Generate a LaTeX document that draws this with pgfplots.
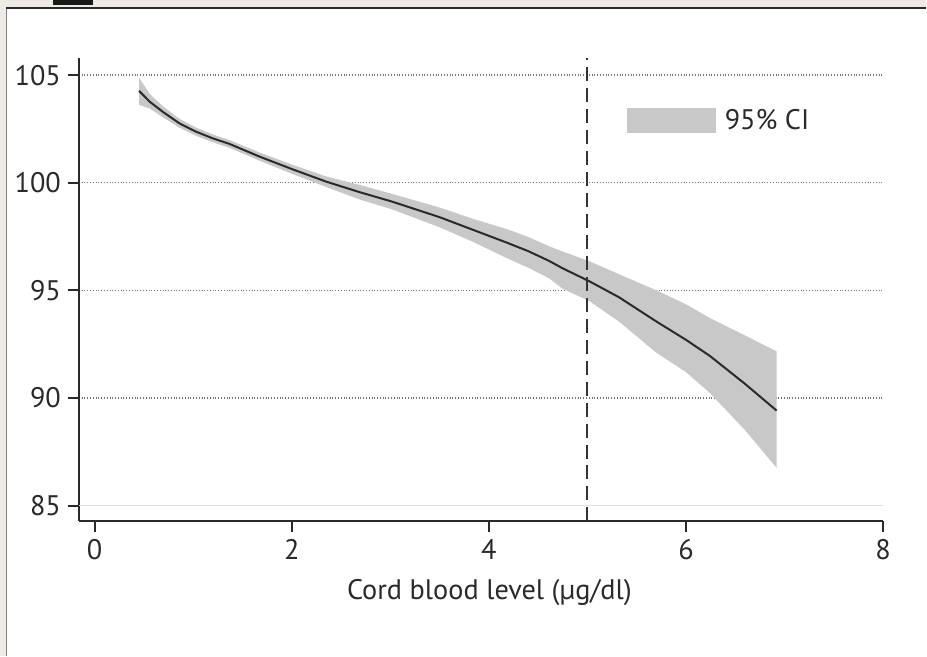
\documentclass[border=0pt]{standalone}
\usepackage{pgfplots}
\pgfplotsset{compat=1.18}
\usepackage{pgfplotstable}
\usepackage{fontspec}
\setmainfont{PT Sans}
\definecolor{beige}{HTML}{EEEBE4}
\definecolor{cifill}{HTML}{C8C8C8}
\definecolor{ink}{HTML}{2A2A2A}

% estimate curve
\pgfplotstableread{
x y
0.45 104.27
0.56 103.76
0.69 103.30
0.86 102.76
1.03 102.37
1.20 102.06
1.37 101.80
1.67 101.22
2.01 100.62
2.35 100.05
2.69 99.56
3.02 99.12
3.50 98.40
3.84 97.81
4.18 97.22
4.40 96.82
4.61 96.37
4.75 96.02
5.02 95.42
5.32 94.68
5.70 93.55
6.00 92.70
6.24 91.96
6.60 90.65
6.92 89.41
}\estdata

% 95% CI band: upper bound left to right, then lower bound right to left
\pgfplotstableread{
x y
0.45 104.88
0.56 104.12
0.69 103.56
0.86 102.97
1.03 102.56
1.20 102.24
1.37 101.98
1.67 101.41
2.01 100.83
2.35 100.29
2.69 99.90
3.02 99.48
3.50 98.85
3.84 98.32
4.18 97.85
4.40 97.48
4.61 97.05
4.75 96.80
5.02 96.35
5.32 95.75
5.70 95.00
6.00 94.35
6.24 93.72
6.60 92.90
6.92 92.16
6.92 86.75
6.60 88.50
6.24 90.24
6.00 91.20
5.70 92.10
5.32 93.55
5.02 94.50
4.75 95.07
4.61 95.56
4.40 96.05
4.18 96.50
3.84 97.25
3.50 97.93
3.02 98.76
2.69 99.22
2.35 99.80
2.01 100.40
1.67 101.03
1.37 101.62
1.20 101.88
1.03 102.18
0.86 102.56
0.69 103.05
0.56 103.45
0.45 103.62
}\cidata

\begin{document}
\begin{tikzpicture}
\fill[beige] (0,0) rectangle (463.5bp,328.5bp);
\fill[white] (3.5bp,0) rectangle (463.5bp,324bp);
\draw[gray, line width=0.5bp] (3.25bp,0) -- (3.25bp,324bp);
\draw[ink, line width=1bp] (3bp,324.25bp) -- (463.5bp,324.25bp);
\fill[black!90] (26.5bp,326bp) rectangle (46.5bp,328.5bp);
\begin{axis}[
  at={(39.5bp,67.5bp)}, anchor=south west,
  scale only axis, width=402.5bp, height=232bp,
  xmin=-0.16, xmax=8, ymin=84.26, ymax=105.8,
  axis lines*=left, axis line style={ink, line width=1bp, -},
  xtick={0,2,4,6,8}, ytick={90,95,100,105},
  extra y ticks={85},
  extra y tick style={grid style={solid, black!12, line width=0.6bp}},
  ymajorgrids, grid style={densely dotted, black!55, line width=0.7bp},
  tick align=outside, major tick length=5.5bp,
  tick style={ink, line width=1bp},
  font=\fontsize{14.2}{17}\selectfont,
  /pgf/number format/assume math mode=true,
  tick label style={text=ink},
  xlabel={Cord blood level (µg/dl)},
  xlabel style={at={(axis description cs:0.5105,0)}, anchor=center, yshift=-35.5bp, text=ink},
  legend style={draw=none, fill=none, at={(axis description cs:0.681,0.865)}, anchor=west, inner sep=0pt, column sep=2.5bp, text=ink, font=\fontsize{14.2}{17}\selectfont},
  legend image code/.code={\fill[cifill] (0bp,-6.5bp) rectangle (44.5bp,6.5bp);},
]
\addplot[fill=cifill, draw=none] table[x=x,y=y]{\cidata};
\addlegendentry{95\% CI}
\addplot[ink, line width=1bp, forget plot] table[x=x,y=y]{\estdata};
\addplot[black!80, line width=1bp, dash pattern=on 7bp off 3.5bp, forget plot] coordinates {(5,84.26) (5,105.8)};
\end{axis}
\end{tikzpicture}
\end{document}
